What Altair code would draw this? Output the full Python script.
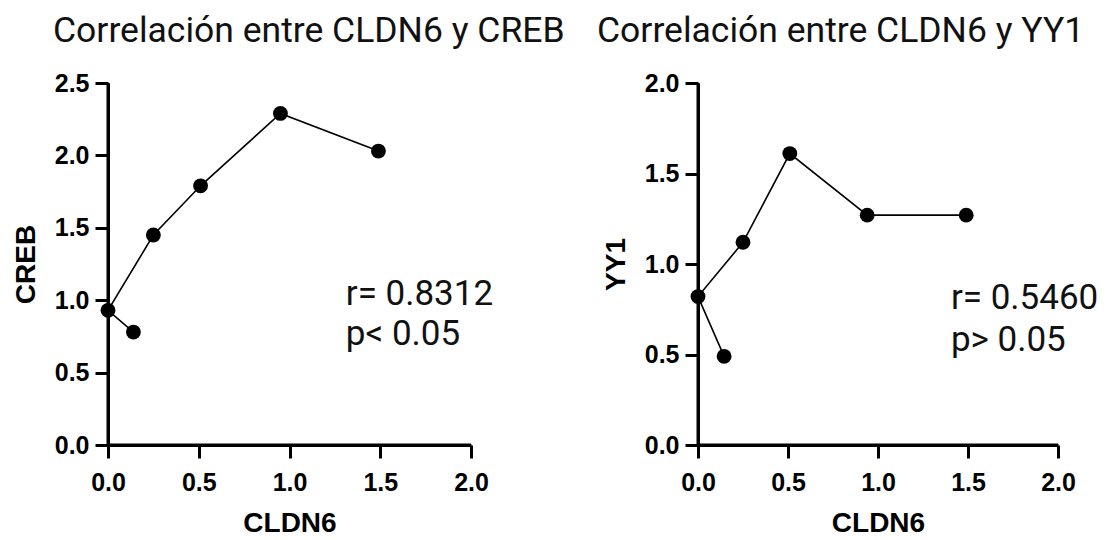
import altair as alt
import pandas as pd

# Data (in plotting/connection order)
cldn6 = [0.14, 0.0, 0.25, 0.51, 0.95, 1.49]
creb = [0.78, 0.93, 1.45, 1.79, 2.29, 2.03]
cldn6_b = [0.145, 0.0, 0.25, 0.51, 0.94, 1.49]
yy1 = [0.49, 0.82, 1.12, 1.61, 1.27, 1.27]

titles = ["Correlación entre CLDN6 y CREB", "Correlación entre CLDN6 y YY1"]
ylabels = ["CREB", "YY1"]
xlabel = "CLDN6"
ann_left = ["r= 0.8312", "p< 0.05"]
ann_right = ["r= 0.5460", "p> 0.05"]
x_ticks = [0, 0.5, 1.0, 1.5, 2.0]
y_ticks_left = [0, 0.5, 1.0, 1.5, 2.0, 2.5]
y_ticks_right = [0, 0.5, 1.0, 1.5, 2.0]

TITLE_FONT = "Roboto"
AX_FONT = "Liberation Sans"


def axis(values, title, label_pad, title_pad):
    return alt.Axis(
        values=values,
        format=".1f",
        title=title,
        grid=False,
        domain=True,
        ticks=True,
        domainColor="#000000",
        domainWidth=3,
        tickColor="#000000",
        tickWidth=3,
        tickSize=13,
        labelFlush=False,
        labelOverlap=False,
        labelFont=AX_FONT,
        labelFontWeight="bold",
        labelFontSize=25,
        labelColor="black",
        labelPadding=label_pad,
        titleFont=AX_FONT,
        titleFontWeight="bold",
        titleFontSize=28,
        titleColor="black",
        titlePadding=title_pad,
    )


def panel(xs, ys, ylab, yticks, ymax, ann, ann_x, ann_y, title, title_dx, w, h):
    df = pd.DataFrame({"x": xs, "y": ys, "i": list(range(len(xs)))})
    xenc = alt.X(
        "x:Q",
        scale=alt.Scale(domain=[0, 2], nice=False, zero=False),
        axis=axis(x_ticks, xlabel, 12, 14),
    )
    yenc = alt.Y(
        "y:Q",
        scale=alt.Scale(domain=[0, ymax], nice=False),
        axis=axis(yticks, ylab, 6, 14),
    )
    # axis frame lines drawn from the axis extents through the scales
    frame = pd.DataFrame({"x": [0.0], "x2": [2.0], "y": [0.0], "y2": [ymax]})
    hrule = alt.Chart(frame).mark_rule(color="black", strokeWidth=3).encode(
        x=xenc, x2="x2:Q", y=yenc
    )
    vrule = alt.Chart(frame).mark_rule(color="black", strokeWidth=3).encode(
        x=xenc, y=yenc, y2="y2:Q"
    )
    base = alt.Chart(df)
    line = base.mark_line(color="black", strokeWidth=1.6).encode(x=xenc, y=yenc, order="i:Q")
    pts = base.mark_circle(size=220, color="black", opacity=1).encode(x=xenc, y=yenc)
    adf = pd.DataFrame({"t": ann, "x": [ann_x, ann_x], "y": ann_y})
    txt = alt.Chart(adf).mark_text(
        align="left", baseline="middle", font=TITLE_FONT, fontSize=35, color="#111111"
    ).encode(x=xenc, y=yenc, text="t:N")
    return alt.layer(hrule, vrule, line, pts, txt).properties(
        width=w,
        height=h,
        title=alt.TitleParams(
            title,
            font=TITLE_FONT,
            fontSize=35.5,
            fontWeight="normal",
            color="#111111",
            anchor="start",
            frame="group",
            dx=title_dx,
            offset=22,
        ),
    )


left = panel(cldn6, creb, ylabels[0], y_ticks_left, 2.5, ann_left, 1.31, [1.04, 0.77], titles[0], -55, 363, 362)
right = panel(cldn6_b, yy1, ylabels[1], y_ticks_right, 2.0, ann_right, 1.405, [0.81, 0.58], titles[1], -101, 360, 362)

chart = (
    alt.hconcat(left, right, spacing=227, bounds="flush")
    .configure_view(stroke=None)
    .properties(padding={"left": 4, "top": 5, "right": 0, "bottom": 0}, background="white")
)

chart.save("out.html", embed_options={"renderer": "svg", "actions": False})
